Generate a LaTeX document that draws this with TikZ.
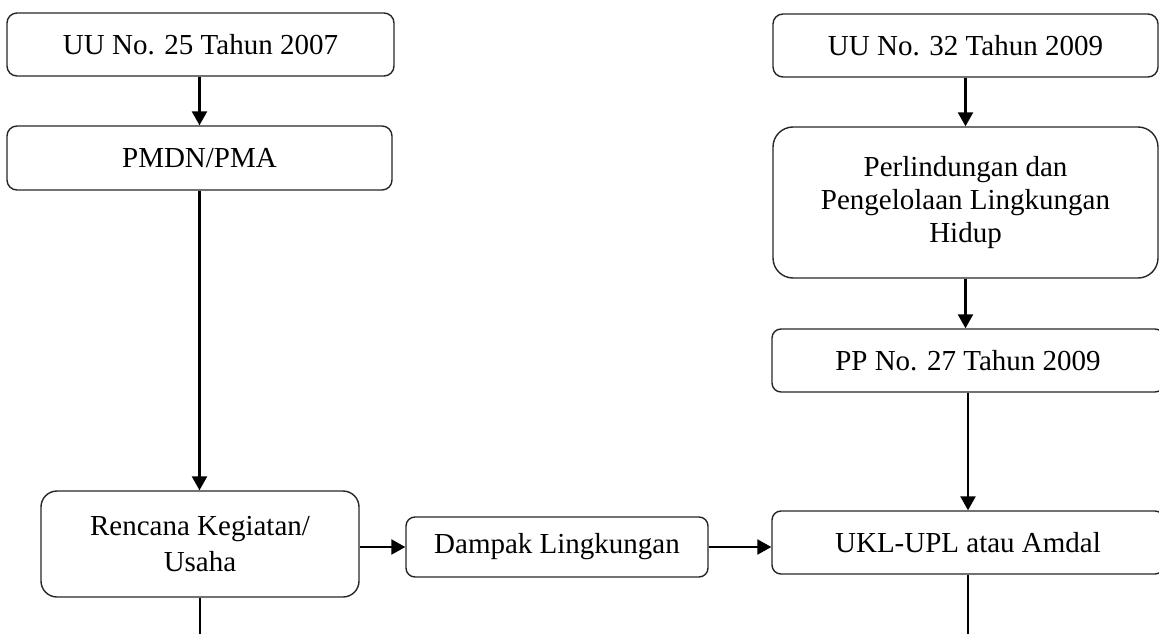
\documentclass[tikz,border=0pt]{standalone}
\usepackage{fontspec}
\setmainfont{Liberation Serif}
\usetikzlibrary{arrows.meta}
\tikzset{
  flowbox/.style={draw=black!85, line width=1.4pt, rectangle, inner sep=0pt, align=center,
    font=\fontsize{29}{36}\selectfont},
  arr/.style={line width=2.4pt, -{Triangle[width=15pt,length=14pt]}},
  ln/.style={line width=2.4pt}
}
\begin{document}
\begin{tikzpicture}[x=1pt,y=-1pt]
\useasboundingbox (0,0) rectangle (1159,634);
\clip (0,0) rectangle (1159,634);
% left column
\node[flowbox, rounded corners=10pt, minimum width=387pt, minimum height=63pt] (uu25) at (200.5,44.5) {UU No. 25 Tahun 2007};
\node[flowbox, rounded corners=10pt, minimum width=385pt, minimum height=64pt] (pmdn) at (199.5,158) {PMDN/PMA};
\node[flowbox, rounded corners=16pt, minimum width=318pt, minimum height=106pt] (renc) at (200,544) {Rencana Kegiatan/\\Usaha};
\node[flowbox, rounded corners=9pt, minimum width=302pt, minimum height=60pt] (damp) at (557,547) {Dampak Lingkungan};
% right column
\node[flowbox, rounded corners=10pt, minimum width=385pt, minimum height=63pt] (uu32) at (965.5,45.5) {UU No. 32 Tahun 2009};
\node[flowbox, rounded corners=20pt, minimum width=385pt, minimum height=151pt,
      font=\fontsize{29}{33}\selectfont] (perl) at (965.5,202.5) {Perlindungan dan\\Pengelolaan Lingkungan\\Hidup};
\node[flowbox, rounded corners=9pt, minimum width=392pt, minimum height=63pt] (pp) at (968,360.5) {PP No. 27 Tahun 2009};
\node[flowbox, rounded corners=9pt, minimum width=392pt, minimum height=63pt] (ukl) at (968,542.5) {UKL-UPL atau Amdal};
\coordinate (lend) at (200,634);
\coordinate (rend) at (968,634);
% connectors
\draw[arr] (uu25.south -| pmdn.north) -- (pmdn.north);
\draw[arr] (pmdn.south) -- (pmdn.south |- renc.north);
\draw[ln] (renc.south) -- (lend);
\draw[arr] (damp.west -| renc.east) -- (damp.west);
\draw[arr] (damp.east) -- (damp.east -| ukl.west);
\draw[arr] (uu32.south) -- (perl.north);
\draw[arr] (perl.south) -- (perl.south |- pp.north);
\draw[arr] (pp.south) -- (ukl.north);
\draw[ln] (ukl.south) -- (rend);
\end{tikzpicture}
\end{document}
